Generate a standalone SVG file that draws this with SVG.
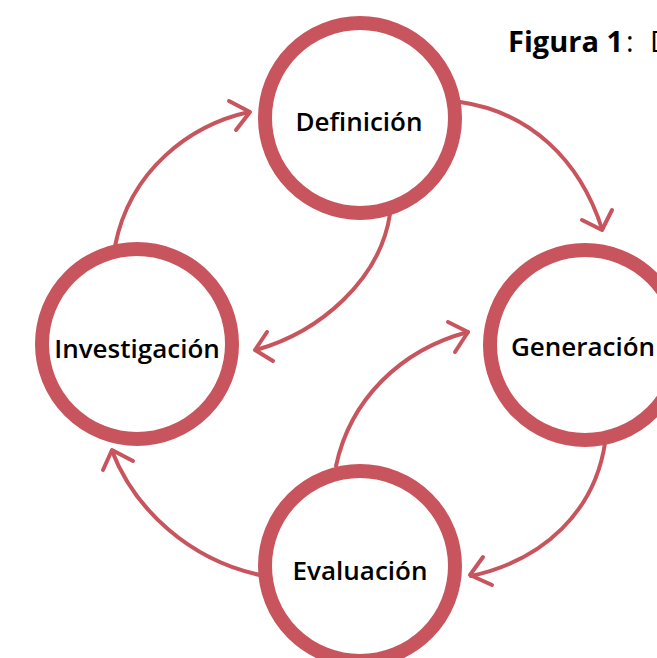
<svg xmlns="http://www.w3.org/2000/svg" width="657" height="658" viewBox="0 0 657 658">
<style>
.node circle{fill:#fff;stroke:#c8555d;stroke-width:14}
.node text{font-family:"Open Sans","DejaVu Sans",sans-serif;font-size:26px;font-weight:600;fill:#000;text-anchor:middle}
.conn path{fill:none;stroke:#c8555d;stroke-width:4;stroke-linecap:round;stroke-linejoin:round}
.title{font-family:"Open Sans","DejaVu Sans",sans-serif;font-size:29px;fill:#000}
</style>
<rect width="657" height="658" fill="#fff"/>
<text class="title" x="508" y="52"><tspan font-weight="bold">Figura 1</tspan><tspan x="626">:</tspan><tspan x="650">D</tspan></text>
<g id="connectors" class="conn">
<path d="M115 246 C130 170 190 125 249 112"/>
<path d="M229 101 L250 112 L236 130"/>
<path d="M460 102 C530 112 580 160 602 229"/>
<path d="M582 220 L602 230 L612 210"/>
<path d="M390 214 C380 280 320 332 256 350"/>
<path d="M267 332 L255 350 L273 361"/>
<path d="M605 443 C595 510 545 560 471 576"/>
<path d="M483 557 L470 575 L492 585"/>
<path d="M336 466 C350 400 400 350 468 332"/>
<path d="M448 322 L468 332 L455 352"/>
<path d="M260 575 C190 560 135 510 112 451"/>
<path d="M103 470 L112 450 L133 461"/>
</g>
<g id="definicion" class="node"><circle cx="360" cy="118" r="95"/><text x="359" y="131">Definición</text></g>
<g id="investigacion" class="node"><circle cx="137" cy="344" r="95"/><text x="137" y="358">Investigación</text></g>
<g id="generacion" class="node"><circle cx="585" cy="345" r="95"/><text x="583" y="356">Generación</text></g>
<g id="evaluacion" class="node"><circle cx="360" cy="566" r="95"/><text x="360" y="580">Evaluación</text></g>
</svg>
